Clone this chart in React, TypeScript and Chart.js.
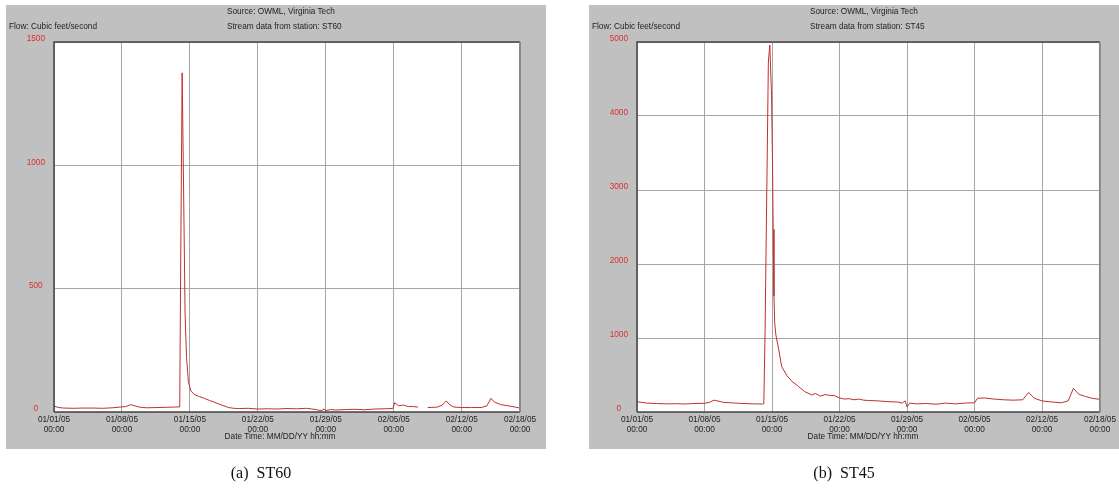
import React, { useEffect, useRef } from "react";
import { Chart, registerables } from "chart.js";

Chart.register(...registerables);

// ---- tick labels ----
const tickDays = [0, 7, 14, 21, 28, 35, 42, 48];
const tickDates = ["01/01/05", "01/08/05", "01/15/05", "01/22/05", "01/29/05", "02/05/05", "02/12/05", "02/18/05"];
const tickTime = "00:00";

// ---- ST60 (days since 01/01/05 00:00, cfs) ----
const st60Days = [
  0, 0.5, 1, 2, 3, 4, 5, 6, 6.8, 7.4, 7.9, 8.3, 8.8, 9.5, 10.5, 11.5, 12.4, 12.95,
  13.05, 13.2, 13.35, 13.5, 13.65, 13.85, 14.1, 14.5, 15, 15.5, 16, 16.5, 17, 17.5, 18, 18.5,
  19, 20, 21, 22, 23, 24, 25, 26, 27, 27.5, 27.8, 28, 28.5, 29, 30, 31, 32, 33, 34, 34.9,
  35.1, 35.5, 36, 36.5, 37, 37.5, 37.55, 38.5, 39.5, 40, 40.4, 40.8, 41.2, 42, 43, 44,
  44.6, 45, 45.4, 46, 46.8, 47.5, 48,
];
const st60Flow = [
  24, 18, 16, 15, 16, 16, 15, 17, 20, 22, 30, 25, 20, 17, 18, 19, 20, 21,
  600, 1375, 900, 400, 220, 120, 85, 70, 62, 55, 47, 40, 32, 25, 18, 15,
  14, 15, 12, 13, 12, 14, 13, 15, 10, 5, 12, 6, 10, 8, 10, 11, 9, 12, 13, 14,
  38, 25, 28, 22, 22, 20, null, 18, 20, 28, 45, 28, 20, 18, 18, 18,
  25, 55, 40, 30, 25, 20, 16,
];

// ---- ST45 (days since 01/01/05 00:00, cfs) ----
const st45Days = [
  0, 0.5, 1, 2, 3, 4, 5, 6, 7, 7.5, 8, 8.5, 9, 10, 11, 12, 13, 13.15,
  13.28, 13.62, 13.77, 13.95, 14.05, 14.12, 14.2, 14.28, 14.4, 14.7, 15, 15.55, 16.1, 16.75, 17.4, 18.1, 18.5,
  19, 19.5, 20, 20.5, 21, 21.5, 22, 22.5, 23, 23.5, 24, 25, 26, 27, 27.5, 27.8, 28, 28.3,
  29, 30, 31, 32, 33, 34, 35, 35.3, 36, 37, 38, 39, 40, 40.6, 41.2, 42, 43, 44,
  44.7, 45.25, 45.8, 46.5, 47.2, 48,
];
const st45Flow = [
  140, 130, 120, 115, 110, 112, 108, 115, 118, 130, 160, 145, 130, 122, 115, 110, 108, 110,
  1100, 4730, 4960, 4280, 3380, 2470, 1565, 1200, 1040, 840, 615, 489, 411, 344, 275, 230, 250,
  215, 235, 225, 220, 190, 175, 180, 165, 175, 160, 155, 150, 140, 135, 120, 150, 70, 120,
  110, 115, 105, 120, 110, 120, 125, 185, 190, 175, 165, 160, 165, 265, 185, 150, 135, 125,
  150, 320, 240, 210, 185, 170,
];

const SANS = "'Liberation Sans', Arial, sans-serif";
const TXT = 8.25;
const PANEL_TOP = 5;
const PANEL_H = 444;

const framePlugin = {
  id: "frame",
  beforeDraw(chart: any) {
    const { ctx, chartArea: a } = chart;
    ctx.save();
    ctx.fillStyle = "#c0c0c0";
    ctx.fillRect(0, 0, chart.width, chart.height);
    ctx.fillStyle = "#ffffff";
    ctx.fillRect(a.left, a.top, a.right - a.left, a.bottom - a.top);
    ctx.restore();
  },
  afterDatasetsDraw(chart: any) {
    const { ctx, chartArea: a } = chart;
    ctx.save();
    ctx.lineWidth = 1.5;
    ctx.strokeStyle = "#454545";
    ctx.beginPath();
    ctx.moveTo(a.left, a.bottom);
    ctx.lineTo(a.left, a.top);
    ctx.lineTo(a.right, a.top);
    ctx.moveTo(a.left, a.bottom);
    ctx.lineTo(a.right, a.bottom);
    ctx.stroke();
    ctx.strokeStyle = "#8a8a8a";
    ctx.lineWidth = 2;
    ctx.beginPath();
    ctx.moveTo(a.right, a.top);
    ctx.lineTo(a.right, a.bottom);
    ctx.stroke();
    ctx.restore();
  },
};

type PanelProps = {
  left: number;
  width: number;
  station: string;
  caption: string;
  days: number[];
  flow: (number | null)[];
  yMax: number;
  yStep: number;
};

function Panel({ left, width, station, caption, days, flow, yMax, yStep }: PanelProps) {
  const ref = useRef<HTMLCanvasElement | null>(null);
  const rightPad = width - 466 - 48;

  useEffect(() => {
    if (!ref.current) return;
    const chart = new Chart(ref.current, {
      type: "line",
      data: {
        datasets: [
          {
            data: days.map((d, i) => ({ x: d, y: flow[i] })) as any,
            borderColor: "rgb(192,48,48)",
            borderWidth: 1,
            pointRadius: 0,
            tension: 0,
            spanGaps: false,
          },
        ],
      },
      options: {
        animation: false,
        responsive: false,
        maintainAspectRatio: false,
        events: [],
        layout: { padding: { left: 0, top: 37, right: rightPad, bottom: 0 } },
        plugins: { legend: { display: false }, tooltip: { enabled: false }, title: { display: false } },
        scales: {
          x: {
            type: "linear",
            min: 0,
            max: 48,
            afterBuildTicks: (s: any) => {
              s.ticks = tickDays.map((v) => ({ value: v }));
            },
            afterFit: (s: any) => {
              s.height = 37;
            },
            grid: { color: "#a6a6a6", lineWidth: 1, drawTicks: false },
            border: { display: false },
            ticks: {
              autoSkip: false,
              maxRotation: 0,
              minRotation: 0,
              padding: 3,
              color: "#1e1e1e",
              font: { family: SANS, size: TXT, lineHeight: 1.15 },
              callback: (v: any) => {
                const i = tickDays.indexOf(Number(v));
                return i >= 0 ? [tickDates[i], tickTime] : "";
              },
            },
          },
          y: {
            min: 0,
            max: yMax,
            afterFit: (s: any) => {
              s.width = 48;
            },
            grid: { color: "#a6a6a6", lineWidth: 1, drawTicks: false },
            border: { display: false },
            ticks: {
              stepSize: yStep,
              padding: 9,
              crossAlign: "center",
              labelOffset: -3,
              color: "#d83030",
              font: { family: SANS, size: TXT },
              callback: (v: any) => String(v),
            },
          },
        },
      },
      plugins: [framePlugin],
    });
    return () => chart.destroy();
  }, []);

  const text: React.CSSProperties = {
    position: "absolute",
    fontFamily: SANS,
    fontSize: TXT,
    lineHeight: "10px",
    height: 10,
    whiteSpace: "nowrap",
    color: "#1e1e1e",
  };

  return (
    <>
      <div style={{ position: "absolute", left, top: PANEL_TOP, width, height: PANEL_H, background: "#c0c0c0" }}>
        <canvas ref={ref} width={width} height={PANEL_H} style={{ display: "block", width, height: PANEL_H }} />
        <div style={{ ...text, left: 221, top: 12 - PANEL_TOP - 5 }}>Source: OWML, Virginia Tech</div>
        <div style={{ ...text, left: 221, top: 27 - PANEL_TOP - 5 }}>Stream data from station: {station}</div>
        <div style={{ ...text, left: 3, top: 27 - PANEL_TOP - 5 }}>Flow: Cubic feet/second</div>
        <div style={{ ...text, left: 274 - 100, width: 200, textAlign: "center", top: 437 - PANEL_TOP - 5 }}>
          Date Time: MM/DD/YY hh:mm
        </div>
      </div>
      <div
        style={{
          position: "absolute",
          left: left + 255 - 100,
          width: 200,
          top: 473 - 10,
          height: 20,
          lineHeight: "20px",
          textAlign: "center",
          fontFamily: "'Liberation Serif', 'Times New Roman', serif",
          fontSize: 16,
          color: "#111",
          whiteSpace: "pre",
        }}
      >
        {caption}
      </div>
    </>
  );
}

export default function App() {
  return (
    <div style={{ position: "absolute", left: 0, top: 0, width: 1119, height: 492, overflow: "hidden", background: "#fff" }}>
      <Panel left={6} width={540} station="ST60" caption={"(a)  ST60"} days={st60Days} flow={st60Flow} yMax={1500} yStep={500} />
      <Panel left={589} width={530} station="ST45" caption={"(b)  ST45"} days={st45Days} flow={st45Flow} yMax={5000} yStep={1000} />
    </div>
  );
}
